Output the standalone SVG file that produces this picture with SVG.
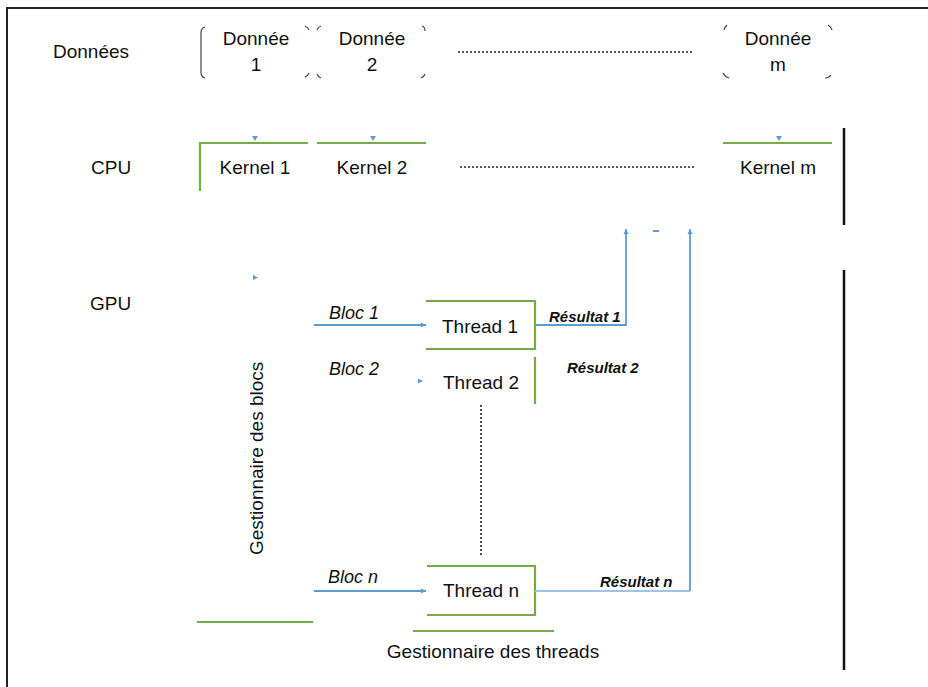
<svg xmlns="http://www.w3.org/2000/svg" width="928" height="687" viewBox="0 0 928 687">
  <defs>
    <marker id="arr" markerWidth="6" markerHeight="6" refX="5" refY="3" orient="auto" markerUnits="userSpaceOnUse">
      <path d="M0,0.5 L5,3 L0,5.5 Z" fill="#5b9bd5"/>
    </marker>
    <style>
      text { font-family: "Liberation Sans", Arial, sans-serif; fill: #111; }
      .lbl { font-size: 19px; }
      .bloc { font-size: 18px; font-style: italic; }
      .res { font-size: 15px; font-style: italic; font-weight: bold; }
      .green { fill: none; stroke: #70ad47; stroke-width: 2.2; }
      .blue { fill: none; stroke: #5b9bd5; stroke-width: 1.8; }
      .bluel { fill: none; stroke: #9dc3e6; stroke-width: 1.8; }
      .dots { fill: none; stroke: #222; stroke-width: 1.6; stroke-dasharray: 2 2; }
      .corner { fill: none; stroke: #444; stroke-width: 1.2; }
      .sep { fill: none; stroke: #111; stroke-width: 2.5; }
      .tip { fill: #5b9bd5; }
    </style>
  </defs>

  <rect x="0" y="0" width="928" height="687" fill="#ffffff"/>
  <!-- frame -->
  <path d="M7,687 V8 H928" fill="none" stroke="#222" stroke-width="2"/>

  <!-- row labels -->
  <g id="row-labels">
    <text class="lbl" x="53" y="58">Données</text>
    <text class="lbl" x="91" y="174">CPU</text>
    <text class="lbl" x="90" y="310">GPU</text>
  </g>

  <!-- data items -->
  <g id="donnee-1">
    <path class="corner" d="M205,27 Q201,28 201,33 V72 Q201,77 205,78" stroke-width="1.8"/>
    <path class="corner" d="M305,26 Q308,27 309,30 M309,73 Q308,76 305,77"/>
    <text class="lbl" x="256" y="45" text-anchor="middle">Donnée</text>
    <text class="lbl" x="256" y="71" text-anchor="middle">1</text>
  </g>
  <g id="donnee-2">
    <path class="corner" d="M321,26 Q318,27 317,30 M317,74 Q318,77 321,78"/>
    <path class="corner" d="M422,26 Q425,27 425,31 M425,74 Q424,77 421,78"/>
    <text class="lbl" x="372" y="45" text-anchor="middle">Donnée</text>
    <text class="lbl" x="372" y="71" text-anchor="middle">2</text>
  </g>
  <g id="donnee-m">
    <path class="corner" d="M727,25 Q725,27 724,30 M723,73 Q725,77 729,78"/>
    <path class="corner" d="M828,25 Q831,27 832,30 M831,75 Q829,78 825,78"/>
    <text class="lbl" x="778" y="45" text-anchor="middle">Donnée</text>
    <text class="lbl" x="778" y="71" text-anchor="middle">m</text>
  </g>

  <!-- kernels -->
  <g id="kernel-1">
    <path class="green" d="M200,191 V143 H308"/>
    <text class="lbl" x="255" y="174" text-anchor="middle">Kernel 1</text>
  </g>
  <g id="kernel-2">
    <path class="green" d="M317,143 H426"/>
    <text class="lbl" x="372" y="174" text-anchor="middle">Kernel 2</text>
  </g>
  <g id="kernel-m">
    <path class="green" d="M723,143 H832"/>
    <text class="lbl" x="778" y="174" text-anchor="middle">Kernel m</text>
  </g>

  <!-- block manager -->
  <g id="gestionnaire-blocs">
    <text class="lbl" transform="translate(263,555) rotate(-90)">Gestionnaire des blocs</text>
    <path class="green" d="M197,622 H313"/>
  </g>

  <!-- threads -->
  <g id="thread-1">
    <path class="green" d="M426,301 H535 V349 H426"/>
    <text class="lbl" x="480" y="333" text-anchor="middle">Thread 1</text>
  </g>
  <g id="thread-2">
    <path class="green" d="M535,357 V404"/>
    <text class="lbl" x="481" y="389" text-anchor="middle">Thread 2</text>
  </g>
  <g id="thread-n">
    <path class="green" d="M427,566 H535 V615 H427"/>
    <text class="lbl" x="481" y="597" text-anchor="middle">Thread n</text>
  </g>

  <!-- thread manager -->
  <g id="gestionnaire-threads">
    <path class="green" d="M413,631 H554"/>
    <text class="lbl" x="493" y="658" text-anchor="middle">Gestionnaire des threads</text>
  </g>

  <!-- separators -->
  <g id="separators">
    <path class="sep" d="M844,128 V225"/>
    <path class="sep" d="M844,270 V670"/>
  </g>

  <!-- ellipsis lines -->
  <g id="ellipsis">
    <path class="dots" d="M458,52 H692"/>
    <path class="dots" d="M460,167 H695"/>
    <path class="dots" d="M481,405 V555"/>
  </g>

  <!-- connectors -->
  <g id="connectors">
    <path class="blue" d="M314,325 H426" marker-end="url(#arr)"/>
    <path class="blue" d="M314,591 H426" marker-end="url(#arr)"/>
    <path class="blue" d="M535,325 H626 V229" marker-end="url(#arr)"/>
    <path class="bluel" d="M535,591 H690"/>
    <path class="blue" d="M690,591 V229" marker-end="url(#arr)"/>
    <!-- stub arrowheads -->
    <path class="tip" d="M252,136 H258 L255,141 Z"/>
    <path class="tip" d="M370,136 H376 L373,141 Z"/>
    <path class="tip" d="M776,136 H782 L779,141 Z"/>
    <path class="tip" d="M253,275 L258,277.5 L253,280 Z"/>
    <path class="tip" d="M418,378.5 L423,381 L418,383.5 Z"/>
    <path class="tip" d="M653,230 H659 V232 H653 Z"/>
    <text class="bloc" x="329" y="319">Bloc 1</text>
    <text class="bloc" x="329" y="375">Bloc 2</text>
    <text class="bloc" x="328" y="583">Bloc n</text>
    <text class="res" x="549" y="322">Résultat 1</text>
    <text class="res" x="567" y="373">Résultat 2</text>
    <text class="res" x="600" y="587">Résultat n</text>
  </g>
</svg>
